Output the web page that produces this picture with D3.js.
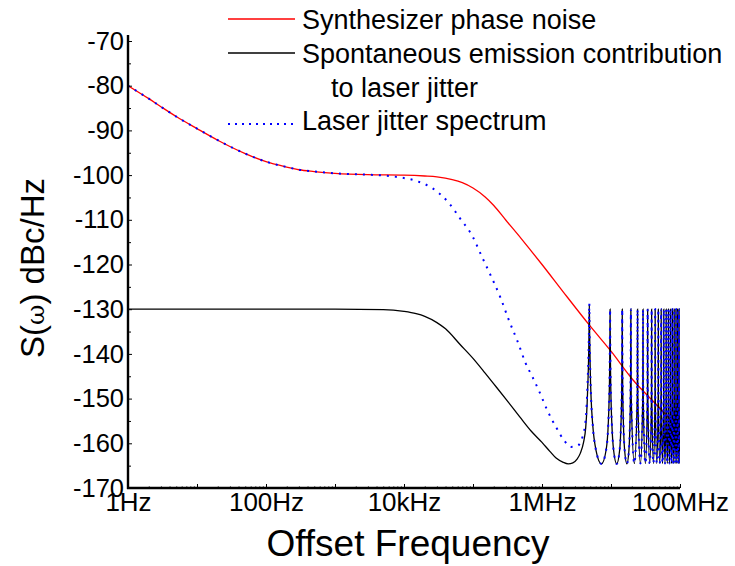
<!DOCTYPE html>
<html>
<head>
<meta charset="utf-8">
<script src="https://cdnjs.cloudflare.com/ajax/libs/d3/7.8.5/d3.min.js"></script>
<style>
  body { margin: 0; background: #fff; }
  svg { font-family: "Liberation Sans", Arial, sans-serif; }
</style>
</head>
<body>
<div id="chart"></div>
<script>
// synthesizer phase noise (Hz, dBc/Hz)
const redFreq = [1, 2, 3, 5, 10, 20, 30, 50, 100, 200, 300, 500, 1e3, 3e3, 1e4, 2e4, 3e4, 5e4, 7e4, 1e5, 1.5e5, 2e5, 3e5, 5e5, 7e5, 1e6, 2e6, 5e6, 1e7, 2e7, 5e7, 1e8];
const redDb = [-80, -82.9, -84.7, -86.9, -89.6, -92.2, -93.6, -95.2, -97.0, -98.2, -98.8, -99.2, -99.6, -99.9, -100.0, -100.2, -100.4, -101.0, -101.7, -102.9, -104.9, -106.8, -110.1, -114.2, -117.0, -120.0, -126.0, -133.8, -139.4, -145.5, -152.0, -157.0];

// spontaneous emission contribution, smooth part up to first cavity peak
const blackFreq = [1, 1e3, 5e3, 1e4, 1.5e4, 2e4, 3e4, 4e4, 6.5e4, 1e5, 1.5e5, 2e5, 3e5, 5e5, 7e5, 1e6, 1.3e6, 1.6e6, 2e6, 2.4e6, 2.8e6, 3.2e6, 3.6e6, 4.0e6, 4.3e6, 4.5e6, 4.65e6, 4.75e6, 4.82e6, 4.85e6];
const blackDb = [-130, -130, -130.1, -130.5, -131.0, -131.6, -133.0, -134.4, -137.9, -141.0, -144.3, -146.7, -150.1, -154.5, -157.3, -159.8, -161.8, -163.3, -164.2, -164.6, -164.4, -163.6, -162.2, -159.8, -156.5, -151.5, -145.5, -140.0, -133.5, -129.0];

// laser jitter spectrum, smooth part up to first cavity peak
const blueFreq = [1, 2, 3, 5, 10, 20, 30, 50, 100, 200, 300, 500, 1e3, 3e3, 5e3, 8.7e3, 1.5e4, 2.5e4, 4.4e4, 6.5e4, 1e5, 1.35e5, 1.75e5, 2.5e5, 3.3e5, 4.5e5, 5.8e5, 7.3e5, 9e5, 1.2e6, 1.6e6, 2.1e6, 2.63e6, 3.24e6, 3.88e6, 4.34e6, 4.55e6, 4.7e6, 4.8e6, 4.85e6];
const blueDb = [-80, -82.9, -84.7, -86.9, -89.6, -92.2, -93.6, -95.2, -97.0, -98.2, -98.8, -99.2, -99.6, -99.9, -100.1, -100.5, -101.3, -102.8, -106.1, -109.7, -113.9, -118.3, -122.0, -127.4, -132.4, -137.5, -142.1, -145.2, -148.2, -152.7, -156.4, -159.4, -160.8, -160.6, -158.5, -154.0, -147.5, -141.0, -134.5, -128.7];

// cavity resonance comb above the first peak (MHz, dBc/Hz), shared by both jitter curves
const combMHz = [
  4.90, 5.0, 5.15, 5.43, 6.05, 7.28, 8.5, 9.12, 9.4, 9.55, 9.65, 9.7,
  9.75, 9.85, 10.0, 10.3, 10.9, 12.1, 13.35, 13.95, 14.25, 14.4, 14.5, 14.55,
  14.6, 14.7, 14.85, 15.15, 15.75, 17.0, 18.2, 18.8, 19.1, 19.25, 19.35, 19.4,
  19.6, 21.8, 24.05, 24.25,
  24.45, 26.7, 28.9, 29.1,
  29.3, 31.5, 33.75, 33.95,
  34.15, 36.4, 38.6, 38.8,
  39.0, 41.2, 43.45, 43.65,
  43.85, 46.1, 48.3, 48.5,
  48.7, 50.9, 53.15, 53.35,
  53.55, 55.8, 58.0, 58.2,
  58.4, 60.6, 62.85, 63.05,
  63.25, 65.5, 67.7, 67.9,
  68.1, 70.3, 72.55, 72.75,
  72.95, 75.2, 77.4, 77.6,
  77.8, 80.0, 82.25, 82.45,
  82.65, 84.9, 87.1, 87.3,
  87.5, 89.7, 91.95, 92.15,
  92.35, 94.6, 96.8, 97.0,
  97.2, 99.4, 100
];
const combDb = [
  -135.5, -143.5, -150, -155.8, -161.5, -164.6, -161.5, -155.8, -150, -144, -136, -130,
  -136, -144, -150, -155.8, -161.5, -164.6, -161.5, -155.8, -150, -144, -136, -130,
  -136, -144, -150, -155.8, -161.5, -164.6, -161.5, -155.8, -150, -144, -136, -130,
  -149, -164.5, -149, -130,
  -149, -164.5, -149, -130,
  -149, -164.5, -149, -130,
  -149, -164.5, -149, -130,
  -149, -164.5, -149, -130,
  -149, -164.5, -149, -130,
  -149, -164.5, -149, -130,
  -149, -164.5, -149, -130,
  -149, -164.5, -149, -130,
  -149, -164.5, -149, -130,
  -149, -164.5, -149, -130,
  -149, -164.5, -149, -130,
  -149, -164.5, -149, -130,
  -149, -164.5, -149, -130,
  -149, -164.5, -149, -130,
  -149, -164.5, -149, -130,
  -149, -164.5, -163
];

const yTicks = [-70, -80, -90, -100, -110, -120, -130, -140, -150, -160, -170];
const xTicks = [1, 100, 1e4, 1e6, 1e8];
const xTickLabels = ["1Hz", "100Hz", "10kHz", "1MHz", "100MHz"];

const legendNames = ["Synthesizer phase noise", "Spontaneous emission contribution", "Laser jitter spectrum"];

let width = 735,
  height = 566;
let plot = {"left": 128, "right": 680, "top": 41, "bottom": 488};

let x = d3.scaleLog().domain([1, 1e8]).range([plot.left, plot.right]);
let y = d3.scaleLinear().domain([-170, -70]).range([plot.bottom, plot.top]);

const svg = d3.select("#chart")
  .append("svg")
  .attr("width", width)
  .attr("height", height);

const zip = (fs, ds) => fs.map((f, i) => [f, ds[i]]);
const comb = zip(combMHz.map(m => m * 1e6), combDb);

let red = zip(redFreq, redDb);
let black = zip(blackFreq, blackDb).concat(comb);
let blue = zip(blueFreq, blueDb).concat(comb);

const line = d3.line()
  .x(d => x(d[0]))
  .y(d => y(d[1]))
  .curve(d3.curveMonotoneX);

svg.append("defs").append("clipPath")
  .attr("id", "clip")
  .append("rect")
  .attr("x", plot.left)
  .attr("y", plot.top - 10)
  .attr("width", plot.right - plot.left)
  .attr("height", plot.bottom - plot.top + 10);

const lines = svg.append("g").attr("clip-path", "url(#clip)");

lines.append("path")
  .attr("d", line(red))
  .attr("fill", "none")
  .attr("stroke", "#ff0000")
  .attr("stroke-width", 1.3);

lines.append("path")
  .attr("d", line(black))
  .attr("fill", "none")
  .attr("stroke", "#000")
  .attr("stroke-width", 1.3);

lines.append("path")
  .attr("d", line(blue))
  .attr("fill", "none")
  .attr("stroke", "#0000ff")
  .attr("stroke-width", 2)
  .attr("stroke-dasharray", "2,6");

// axes
let minorX = [];
for (let e = 0; e < 8; e++) for (let k = 2; k < 10; k++) minorX.push(k * Math.pow(10, e));
let decades = d3.range(0, 9).map(e => Math.pow(10, e));
let minorY = d3.range(-165, -70, 10);

const yAxis = svg.append("g")
  .attr("transform", "translate(" + plot.left + ",0)")
  .call(d3.axisLeft(y).tickValues(yTicks).tickFormat(d => String(d)).tickSize(-4).tickPadding(4));
yAxis.select(".domain").remove();
yAxis.selectAll(".tick text")
  .style("font-size", "25.5px")
  .attr("fill", "#000");

svg.append("g")
  .attr("transform", "translate(" + plot.left + ",0)")
  .call(d3.axisLeft(y).tickValues(minorY).tickFormat("").tickSize(-3))
  .select(".domain").remove();

const xAxis = svg.append("g")
  .attr("transform", "translate(0," + plot.bottom + ")")
  .call(d3.axisBottom(x).tickValues(xTicks).tickFormat((d, i) => xTickLabels[i]).tickSize(0).tickPadding(5));
xAxis.select(".domain").remove();
xAxis.selectAll(".tick text")
  .style("font-size", "26px")
  .attr("fill", "#000");

svg.append("g")
  .attr("transform", "translate(0," + plot.bottom + ")")
  .call(d3.axisBottom(x).tickValues(decades).tickFormat("").tickSize(-4))
  .select(".domain").remove();

svg.append("g")
  .attr("transform", "translate(0," + plot.bottom + ")")
  .attr("color", "#777")
  .call(d3.axisBottom(x).tickValues(minorX).tickFormat("").tickSize(-2))
  .select(".domain").remove();

svg.append("line")
  .attr("x1", plot.left).attr("x2", plot.left)
  .attr("y1", plot.top - 6).attr("y2", plot.bottom + 1)
  .attr("stroke", "#000").attr("stroke-width", 2.4);

svg.append("line")
  .attr("x1", plot.left - 1).attr("x2", plot.right)
  .attr("y1", plot.bottom).attr("y2", plot.bottom)
  .attr("stroke", "#000").attr("stroke-width", 2.4);

svg.append("text")
  .text("Offset Frequency")
  .attr("x", (plot.left + plot.right) / 2 + 4)
  .attr("y", 556)
  .attr("text-anchor", "middle")
  .style("font-size", "37px");

const ytitle = svg.append("text")
  .attr("transform", "translate(44,268) rotate(-90)")
  .attr("text-anchor", "middle")
  .style("font-size", "33px");
ytitle.append("tspan").text("S(");
ytitle.append("tspan").text("ω").style("font-family", "'DejaVu Serif', serif").style("font-size", "25px");
ytitle.append("tspan").text(") dBc/Hz");

// legend
const legend = svg.append("g").attr("id", "legend");

legend.append("line")
  .attr("x1", 228).attr("x2", 295).attr("y1", 19).attr("y2", 19)
  .attr("stroke", "#ff0000").attr("stroke-width", 1.3);
legend.append("line")
  .attr("x1", 228).attr("x2", 295).attr("y1", 53).attr("y2", 53)
  .attr("stroke", "#000").attr("stroke-width", 1.3);
legend.append("line")
  .attr("x1", 228).attr("x2", 295).attr("y1", 124).attr("y2", 124)
  .attr("stroke", "#0000ff").attr("stroke-width", 2).attr("stroke-dasharray", "2,5");

legend.append("text").text(legendNames[0])
  .attr("x", 302).attr("y", 28.5).style("font-size", "27px");
legend.append("text").text(legendNames[1])
  .attr("x", 302).attr("y", 62.5).style("font-size", "27px");
legend.append("text").text("to laser jitter")
  .attr("x", 331).attr("y", 96.5).style("font-size", "27px");
legend.append("text").text(legendNames[2])
  .attr("x", 302).attr("y", 130).style("font-size", "27px");
</script>
</body>
</html>
